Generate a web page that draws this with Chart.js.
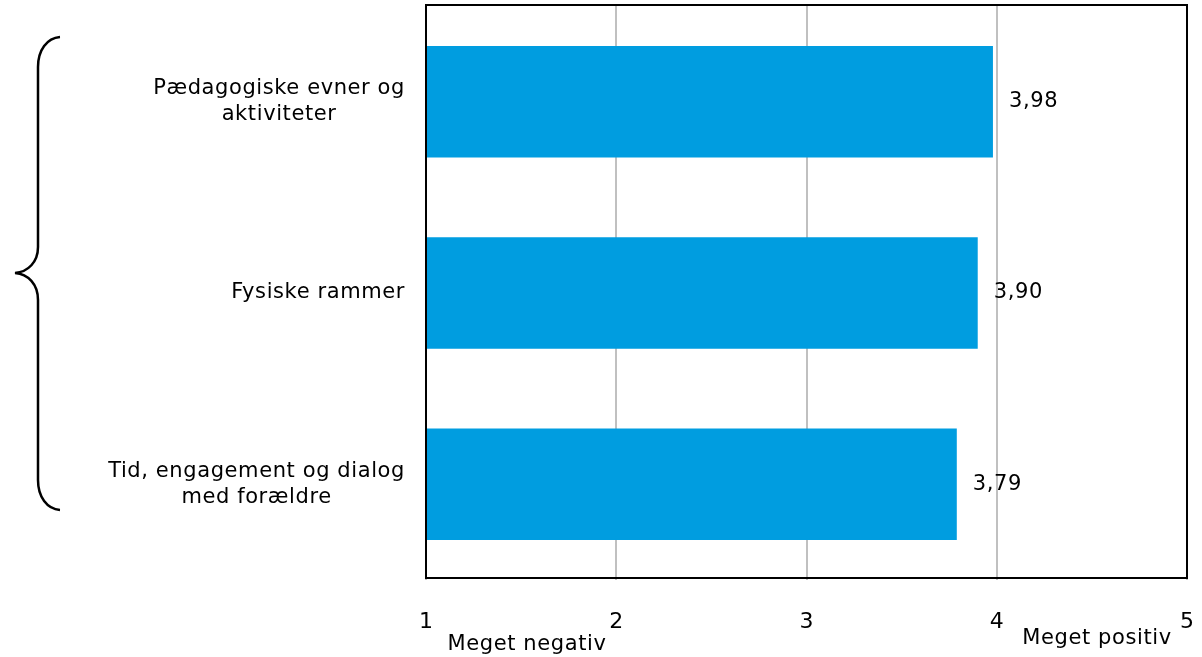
<!DOCTYPE html>
<html>
<head>
<meta charset="utf-8">
<script src="https://cdn.jsdelivr.net/npm/chart.js@4.4.0/dist/chart.umd.min.js"></script>
<style>
html, body { margin:0; padding:0; background:#fff; }
</style>
</head>
<body>
<canvas id="chart" width="1202" height="657"></canvas>
<script>
// data
var categories = [['Pædagogiske evner og', 'aktiviteter'], ['Fysiske rammer'], ['Tid, engagement og dialog', 'med forældre']];
var values = [3.98, 3.90, 3.79];
var valueLabels = ['3,98', '3,90', '3,79'];
var xTicks = [1, 2, 3, 4, 5];
var scaleEnds = ['Meget negativ', 'Meget positiv'];

var FAMILY = '"DejaVu Sans", Verdana, sans-serif';
var FONT = '21px ' + FAMILY;
var SPACING = '0.6px';

// frame, labels, brace
var extras = {
	id: 'extras',
	afterDatasetsDraw: function(chart){
		var ctx = chart.ctx;
		var meta = chart.getDatasetMeta(0);
		ctx.save();
		ctx.font = FONT;
		ctx.letterSpacing = SPACING;
		ctx.fillStyle = '#000';
		ctx.textAlign = 'left';
		ctx.textBaseline = 'middle';
		meta.data.forEach(function(bar, i){
			ctx.fillText(valueLabels[i], bar.x + 16, bar.y);
		});
		ctx.restore();
	},
	afterDraw: function(chart){
		var ctx = chart.ctx;
		var a = chart.chartArea;
		var xs = chart.scales.x;
		var ys = chart.scales.y;
		ctx.save();
		// border (a touch inside the plot area, like the original)
		ctx.strokeStyle = '#000';
		ctx.lineWidth = 2;
		ctx.strokeRect(a.left, a.top - 1, a.right - a.left, a.bottom - a.top - 1);

		// category labels (right aligned block, centered lines)
		ctx.font = FONT;
		ctx.letterSpacing = SPACING;
		ctx.fillStyle = '#000';
		ctx.textAlign = 'center';
		ctx.textBaseline = 'middle';
		var lh = 26;
		categories.forEach(function(lines, i){
			var w = 0;
			lines.forEach(function(l){ w = Math.max(w, ctx.measureText(l).width); });
			var cx = a.left - 21 - w / 2;
			var cy = ys.getPixelForValue(i);
			var y0 = cy - (lines.length - 1) * lh / 2;
			lines.forEach(function(l, j){
				ctx.fillText(l, cx, y0 + j * lh);
			});
		});

		// scale end captions
		ctx.fillText(scaleEnds[0], xs.getPixelForValue(1) + 101, 645);
		ctx.fillText(scaleEnds[1], xs.getPixelForValue(5) - 90, 639);

		// brace
		ctx.beginPath();
		ctx.lineWidth = 2.5;
		ctx.moveTo(60, 37);
		ctx.bezierCurveTo(47, 38, 38, 50, 38, 67);
		ctx.lineTo(38, 247);
		ctx.bezierCurveTo(38, 262, 28, 272, 15, 273);
		ctx.bezierCurveTo(28, 274, 38, 284, 38, 300);
		ctx.lineTo(38, 480);
		ctx.bezierCurveTo(38, 497, 47, 509, 60, 510);
		ctx.stroke();
		ctx.restore();
	}
};

var canvas = document.getElementById('chart').getContext('2d');
window.bars = new Chart(canvas, {
	type: 'bar',
	data: {
		labels: categories,
		datasets: [{
			data: values,
			backgroundColor: '#009DE0',
			barPercentage: 0.583,
			categoryPercentage: 1
		}]
	},
	options: {
		indexAxis: 'y',
		responsive: false,
		animation: false,
		devicePixelRatio: 1,
		layout: { padding: { top: 6, right: 15, left: 0, bottom: 0 } },
		plugins: { legend: { display: false }, tooltip: { enabled: false } },
		scales: {
			x: {
				min: 1,
				max: 5,
				afterBuildTicks: function(s){ s.ticks = xTicks.map(function(v){ return { value: v }; }); },
				ticks: { color: '#000', font: { family: FAMILY, size: 22 }, padding: 29, maxRotation: 0 },
				grid: { color: '#c0c0c0', lineWidth: 2, drawTicks: false },
				border: { display: false },
				afterFit: function(s){ s.height = 77; s.paddingLeft = 0; s.paddingRight = 8; }
			},
			y: {
				ticks: { display: false },
				grid: { display: false },
				border: { display: false },
				afterFit: function(s){ s.width = 426; }
			}
		}
	},
	plugins: [extras]
});
</script>
</body>
</html>
